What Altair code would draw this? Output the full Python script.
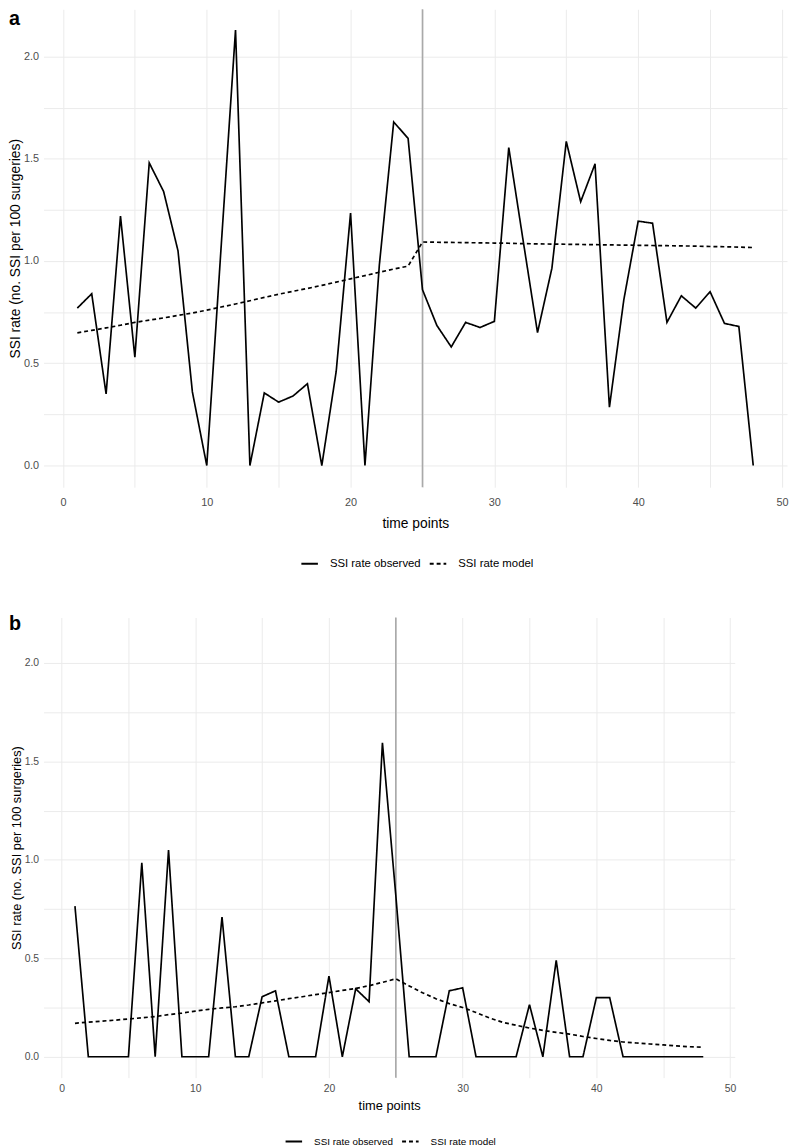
import altair as alt
import pandas as pd

# ---------------- data ----------------
time_points = list(range(1, 49))

obs_a = [0.77, 0.84, 0.35, 1.22, 0.53, 1.48, 1.34, 1.05, 0.36, 0.00,
         1.07, 2.13, 0.00, 0.355, 0.31, 0.34, 0.40, 0.00, 0.46, 1.235,
         0.00, 0.98, 1.68, 1.60, 0.86, 0.685, 0.58, 0.70, 0.675, 0.705,
         1.555, 1.10, 0.65, 0.965, 1.585, 1.29, 1.475, 0.285, 0.81, 1.195,
         1.185, 0.70, 0.83, 0.77, 0.85, 0.695, 0.68, 0.00]

model_a = [0.649, 0.661, 0.673, 0.686, 0.700, 0.711, 0.722, 0.734, 0.746, 0.760,
           0.775, 0.790, 0.806, 0.822, 0.838, 0.852, 0.866, 0.881, 0.897, 0.913,
           0.929, 0.945, 0.961, 0.975, 1.093, 1.092, 1.091, 1.090, 1.089, 1.088,
           1.087, 1.085, 1.084, 1.083, 1.082, 1.081, 1.080, 1.079, 1.078, 1.077,
           1.076, 1.075, 1.074, 1.073, 1.071, 1.070, 1.068, 1.066]

obs_b = [0.765, 0.00, 0.00, 0.00, 0.00, 0.985, 0.00, 1.05, 0.00, 0.00,
         0.00, 0.71, 0.00, 0.00, 0.305, 0.335, 0.00, 0.00, 0.00, 0.41,
         0.00, 0.345, 0.28, 1.595, 0.82, 0.00, 0.00, 0.00, 0.335, 0.35,
         0.00, 0.00, 0.00, 0.00, 0.265, 0.00, 0.49, 0.00, 0.00, 0.30,
         0.30, 0.00, 0.00, 0.00, 0.00, 0.00, 0.00, 0.00]

model_b = [0.170, 0.176, 0.181, 0.186, 0.192, 0.198, 0.204, 0.214, 0.222, 0.232,
           0.241, 0.248, 0.254, 0.263, 0.274, 0.284, 0.295, 0.305, 0.316, 0.326,
           0.337, 0.347, 0.361, 0.378, 0.396, 0.360, 0.325, 0.295, 0.270, 0.250,
           0.225, 0.197, 0.175, 0.160, 0.146, 0.134, 0.124, 0.115, 0.103, 0.093,
           0.083, 0.075, 0.070, 0.065, 0.060, 0.055, 0.051, 0.048]

series_names = ["SSI rate observed", "SSI rate model"]
intervention_point = [25]
x_grid_values = [0, 5, 10, 15, 20, 25, 30, 35, 40, 45, 50]
y_grid_values = [0.0, 0.25, 0.5, 0.75, 1.0, 1.25, 1.5, 1.75, 2.0]
x_title = "time points"
y_title = "SSI rate (no. SSI per 100 surgeries)"
panel_tags = ["a", "b"]

FONT = "Liberation Sans"


def panel(obs, model, tag, width, height, tick_fs, title_fs, legend_fs,
          legend_x, legend_y, tag_y, x_label_pad, x_title_pad):
    df = pd.DataFrame({
        "t": time_points + time_points,
        "rate": obs + model,
        "series": [series_names[0]] * len(obs) + [series_names[1]] * len(model),
    })
    x_scale = alt.Scale(domain=[-1.35, 50.35], nice=False, zero=False)
    y_scale = alt.Scale(domain=[-0.106, 2.231], nice=False, zero=False)
    x_axis = alt.Axis(values=x_grid_values,
                      labelExpr="datum.value % 10 === 0 ? datum.label : ''",
                      title=x_title, grid=True, gridColor="#ebebeb", gridWidth=1,
                      domain=False, ticks=False, labelFlush=False, labelOverlap=False,
                      labelColor="#4d4d4d", labelFont=FONT, labelFontSize=tick_fs,
                      labelPadding=x_label_pad, titleFont=FONT, titleFontSize=title_fs,
                      titleFontWeight="normal", titleColor="black",
                      titlePadding=x_title_pad)
    y_axis = alt.Axis(values=y_grid_values, format=".1f",
                      labelExpr="datum.value % 0.5 === 0 ? datum.label : ''",
                      title=y_title, grid=True, gridColor="#ebebeb", gridWidth=1,
                      domain=False, ticks=False, labelFlush=False, labelOverlap=False,
                      labelColor="#4d4d4d", labelFont=FONT, labelFontSize=tick_fs,
                      labelPadding=5, titleFont=FONT, titleFontSize=title_fs,
                      titleFontWeight="normal", titleColor="black", titlePadding=1)

    rule = alt.Chart(pd.DataFrame({"t": intervention_point})).mark_rule(
        color="#a9a9a9", strokeWidth=1.6
    ).encode(x=alt.X("t:Q", scale=x_scale, axis=x_axis))

    lines = alt.Chart(df).mark_line(color="black", strokeWidth=1.7).encode(
        x=alt.X("t:Q", scale=x_scale, axis=x_axis),
        y=alt.Y("rate:Q", scale=y_scale, axis=y_axis),
        strokeDash=alt.StrokeDash(
            "series:N",
            scale=alt.Scale(domain=series_names, range=[[1, 0], [4, 3]]),
            legend=alt.Legend(title=None, orient="none", legendX=legend_x,
                              legendY=legend_y, direction="horizontal",
                              symbolType="stroke", symbolSize=280,
                              symbolStrokeWidth=2, symbolStrokeColor="black",
                              labelFont=FONT, labelFontSize=legend_fs,
                              labelColor="black", labelOffset=11,
                              columnPadding=4),
        ),
    )

    tag_mark = alt.Chart(pd.DataFrame({"tag": [tag]})).mark_text(
        font=FONT, fontSize=20, fontWeight="bold", color="black",
        align="left", baseline="top"
    ).encode(text="tag:N", x=alt.value(-35), y=alt.value(tag_y))

    return alt.layer(rule, lines, tag_mark).properties(width=width, height=height)


panel_a = panel(obs_a, model_a, panel_tags[0], 753, 484, 11, 14, 11.5,
                260, 552, 0, 10, 9)
panel_b = panel(obs_b, model_b, panel_tags[1], 700, 466, 10.5, 13, 10,
                244, 521, -3, 6, 6)

chart = alt.vconcat(panel_a, panel_b, spacing=46).resolve_scale(
    strokeDash="independent"
).resolve_legend(strokeDash="independent").properties(
    padding={"top": -7, "left": 0, "right": 0, "bottom": 0}
).configure_view(stroke=None)

chart.save("out.html", embed_options={"renderer": "svg", "actions": False})
